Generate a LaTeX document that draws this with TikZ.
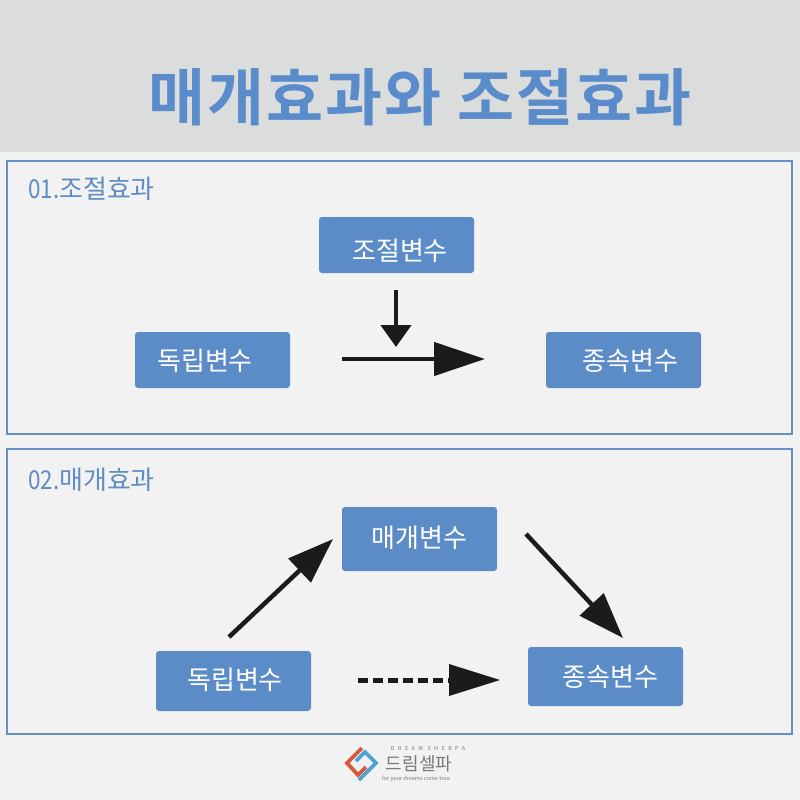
\documentclass[tikz,border=0pt]{standalone}
\usepackage{fontspec}
\usetikzlibrary{arrows.meta}
\setmainfont{Noto Sans CJK KR}
\newfontfamily\kr{Noto Sans CJK KR}
\newfontfamily\krb[LetterSpace=3]{Noto Sans CJK KR Bold}
\newfontfamily\krwide[LetterSpace=62]{Noto Sans CJK KR}
\definecolor{bandgray}{HTML}{DBDDDD}
\definecolor{panelbg}{HTML}{F2F2F3}
\definecolor{boxblue}{HTML}{5C8CC8}
\definecolor{titleblue}{HTML}{5A8CCB}
\definecolor{borderblue}{HTML}{6490C4}
\definecolor{headblue}{HTML}{5F8DC2}
\definecolor{ink}{HTML}{1C1A1C}
\definecolor{logored}{HTML}{D9583B}
\definecolor{logoblue}{HTML}{4FA3D1}
\definecolor{logogray}{HTML}{77797C}
\tikzset{
  panel/.style={draw=borderblue,line width=1.5pt,fill=panelbg},
  varbox/.style={fill=boxblue,rounded corners=3pt,text=white,font=\fontsize{26}{30}\selectfont\kr,inner sep=0pt,anchor=center},
  boxlabel/.style={text=white,font=\fontsize{26}{30}\selectfont\kr,inner sep=0pt},
  headtext/.style={text=headblue,font=\fontsize{26}{30}\selectfont\kr,anchor=west,inner sep=0pt},
  arrowline/.style={draw=ink,line width=4.5pt},
  bigarrow/.style={arrowline,-{Triangle[length=51pt,width=33pt,fill=ink]}},
  smallarrow/.style={arrowline,-{Triangle[length=22pt,width=30pt,fill=ink]}},
  diagarrow/.style={arrowline,-{Triangle[length=46pt,width=32pt,fill=ink]}},
  chevron/.style={line width=3.8pt,line join=miter,line cap=butt},
}
\begin{document}
\begin{tikzpicture}[x=1pt,y=-1pt]
\useasboundingbox (0,0) rectangle (800,800);
\fill[panelbg] (0,0) rectangle (800,800);
\fill[bandgray] (0,0) rectangle (800,152);
\node[text=titleblue,font=\fontsize{62}{66}\selectfont\krb,inner sep=0pt] (title) at (420,97) {매개효과와 조절효과};
\draw[panel] (7,161) rectangle (792,434);
\draw[panel] (7,449) rectangle (792,734);
\node[headtext] (h1) at (28,189) {\scalebox{0.86}[1]{01.}조절효과};
\node[headtext] (h2) at (28,480) {\scalebox{0.86}[1]{02.}매개효과};
\node[varbox,minimum width=155pt,minimum height=56pt] (mod) at (396.5,245) {};
\node[boxlabel] (modt) at (400,251) {조절변수};
\node[varbox,minimum width=155pt,minimum height=56pt] (iv1) at (212.5,360) {};
\node[boxlabel] (iv1t) at (205,361) {독립변수};
\node[varbox,minimum width=155pt,minimum height=56pt] (dv1) at (623.5,360) {};
\node[boxlabel] (dv1t) at (630.5,361) {종속변수};
\node[varbox,minimum width=155pt,minimum height=64pt] (med) at (419.5,539) {};
\node[boxlabel] (medt) at (419.5,538) {매개변수};
\node[varbox,minimum width=155pt,minimum height=60pt] (iv2) at (233.5,681) {};
\node[boxlabel] (iv2t) at (235,680) {독립변수};
\node[varbox,minimum width=155pt,minimum height=59pt] (dv2) at (605.5,676.5) {};
\node[boxlabel] (dv2t) at (610.5,677) {종속변수};
\coordinate (a1s) at (396,290); \coordinate (a1e) at (396,347);
\coordinate (a2s) at (342,359); \coordinate (a2e) at (485,359);
\coordinate (a3s) at (229,637); \coordinate (a3e) at (333,539);
\coordinate (a4s) at (526,534); \coordinate (a4e) at (623,638);
\coordinate (a5s) at (358,680); \coordinate (a5m) at (450,680); \coordinate (a5e) at (500,680);
\draw[smallarrow] (a1s) -- (a1e);
\draw[bigarrow] (a2s) -- (a2e);
\draw[diagarrow] (a3s) -- (a3e);
\draw[diagarrow] (a4s) -- (a4e);
\draw[arrowline,line width=5pt,dash pattern=on 10pt off 5pt] (a5s) -- (a5m);
\fill[ink] (449,664) -- (a5e) -- (449,696) -- cycle;
% logo
\draw[chevron,draw=logored] (362,748) -- (347,763) -- (358,775) -- (366,767);
\draw[chevron,draw=logoblue] (359,780) -- (376,763) -- (365,752) -- (356,761);
\node[text=logogray,font=\fontsize{5.5}{6}\selectfont\krwide,inner sep=0pt] (t1) at (428,748) {DREAM SHERPA};
\node[text=logogray,font=\fontsize{18}{20}\selectfont\kr,inner sep=0pt] (t2) at (419,764) {드림셀파};
\node[text=logogray,font=\fontsize{5.5}{6}\selectfont\kr,inner sep=0pt] (t3) at (416,779) {for your dreams come true};
\end{tikzpicture}
\end{document}
